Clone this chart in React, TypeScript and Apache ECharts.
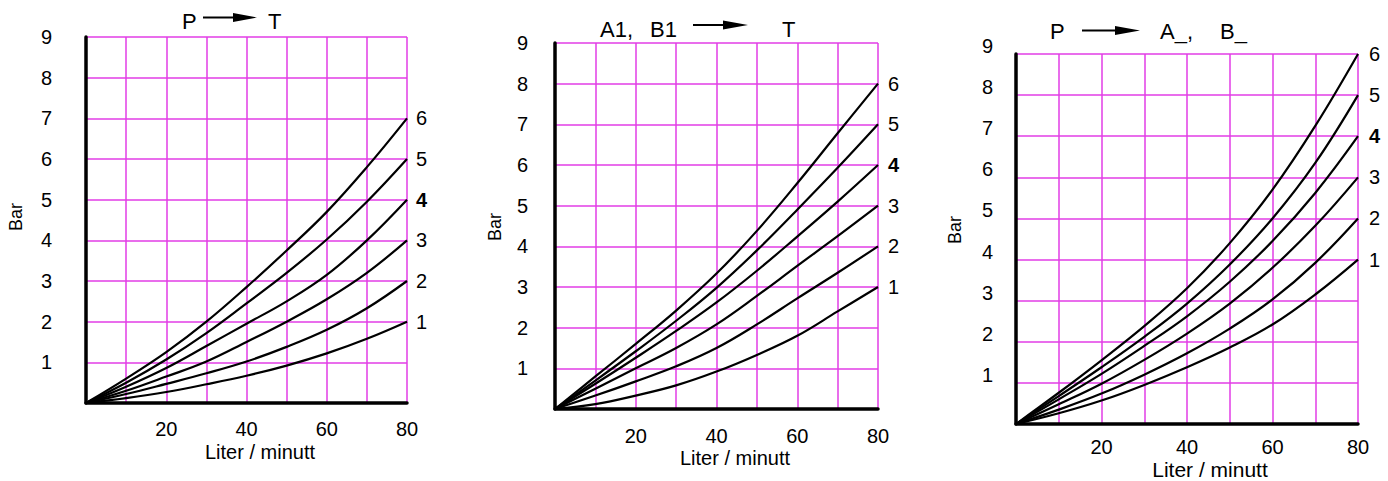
import React, { useEffect, useRef } from "react";
import * as echarts from "echarts";

// ---------- data ----------
const flowValues = [0, 10, 20, 30, 40, 50, 60, 70, 80];
const curveNames = ["1", "2", "3", "4", "5", "6"];
const xTickLabels = [20, 40, 60, 80];
const yTickLabels = [1, 2, 3, 4, 5, 6, 7, 8, 9];

// Panel 1: P -> T
const p1c1 = [0, 0.12, 0.27, 0.46, 0.67, 0.92, 1.22, 1.58, 2.0];
const p1c2 = [0, 0.22, 0.47, 0.73, 1.02, 1.38, 1.8, 2.33, 3.0];
const p1c3 = [0, 0.3, 0.65, 1.02, 1.5, 2.0, 2.55, 3.2, 4.0];
const p1c4 = [0, 0.4, 0.86, 1.4, 1.95, 2.5, 3.15, 4.0, 5.0];
const p1c5 = [0, 0.5, 1.07, 1.72, 2.45, 3.2, 4.02, 4.95, 6.0];
const p1c6 = [0, 0.6, 1.25, 2.0, 2.85, 3.75, 4.7, 5.8, 7.0];

// Panel 2: A1, B1 -> T
const p2c1 = [0, 0.12, 0.33, 0.58, 0.92, 1.33, 1.8, 2.4, 3.0];
const p2c2 = [0, 0.33, 0.68, 1.05, 1.5, 2.08, 2.72, 3.35, 4.0];
const p2c3 = [0, 0.5, 1.0, 1.5, 2.08, 2.78, 3.52, 4.25, 5.0];
const p2c4 = [0, 0.62, 1.26, 1.92, 2.62, 3.4, 4.24, 5.1, 6.0];
const p2c5 = [0, 0.7, 1.42, 2.17, 2.98, 3.9, 4.9, 5.93, 7.0];
const p2c6 = [0, 0.8, 1.6, 2.42, 3.33, 4.38, 5.55, 6.78, 8.0];

// Panel 3: P -> A_, B_
const p3c1 = [0, 0.26, 0.57, 0.95, 1.38, 1.86, 2.42, 3.15, 4.0];
const p3c2 = [0, 0.35, 0.74, 1.2, 1.72, 2.32, 3.03, 3.92, 5.0];
const p3c3 = [0, 0.48, 0.98, 1.56, 2.2, 2.93, 3.8, 4.82, 6.0];
const p3c4 = [0, 0.6, 1.22, 1.9, 2.62, 3.46, 4.45, 5.62, 7.0];
const p3c5 = [0, 0.68, 1.38, 2.12, 2.93, 3.88, 5.0, 6.35, 8.0];
const p3c6 = [0, 0.76, 1.55, 2.38, 3.3, 4.4, 5.7, 7.25, 9.0];

const panelCurves = [
  [p1c1, p1c2, p1c3, p1c4, p1c5, p1c6],
  [p2c1, p2c2, p2c3, p2c4, p2c5, p2c6],
  [p3c1, p3c2, p3c3, p3c4, p3c5, p3c6],
];

const xAxisName = "Liter / minutt";
const yAxisName = "Bar";

// ---------- styling / layout ----------
const FONT = '"Liberation Sans", Arial, Helvetica, sans-serif';
const MAGENTA = "#e23ce6";

const panelLayout = [
  { left: 86, top: 37, width: 321, height: 366, yMargin: 34, yRaise: false, xMargin: 16, endDist: 9 },
  { left: 555, top: 43, width: 323, height: 366, yMargin: 27, yRaise: false, xMargin: 17, endDist: 10 },
  { left: 1016, top: 54, width: 342, height: 370, yMargin: 23, yRaise: true, xMargin: 13, endDist: 11 },
];

function arrow(x0: number, headStart: number, x1: number, y: number) {
  return [
    {
      type: "line",
      shape: { x1: x0, y1: y, x2: headStart + 2, y2: y },
      style: { stroke: "#000", lineWidth: 2 },
    },
    {
      type: "polygon",
      shape: {
        points: [
          [headStart, y - 4.5],
          [x1, y],
          [headStart, y + 4.5],
        ],
      },
      style: { fill: "#000" },
    },
  ];
}

function text(str: string, x: number, y: number, size: number, align = "left", rotation = 0) {
  return {
    type: "text",
    x,
    y,
    rotation,
    style: {
      text: str,
      x: 0,
      y: 0,
      fill: "#000",
      font: `${size}px ${FONT}`,
      align,
      verticalAlign: "middle",
    },
  };
}

export default function App() {
  const ref = useRef<HTMLDivElement>(null);

  useEffect(() => {
    if (!ref.current) return;
    const chart = echarts.init(ref.current, null, { renderer: "svg" });

    const grids = panelLayout.map((p) => ({
      left: p.left,
      top: p.top,
      width: p.width,
      height: p.height,
      containLabel: false,
    }));

    const xAxes = panelLayout.map((p, i) => ({
      type: "value",
      gridIndex: i,
      min: 0,
      max: 80,
      interval: 10,
      axisLine: { show: true, onZero: false, lineStyle: { color: "#000", width: 3.5 } },
      axisTick: { show: false },
      splitLine: { show: true, showMinLine: false, lineStyle: { color: MAGENTA, width: 1.5 } },
      axisLabel: {
        margin: p.xMargin,
        color: "#000",
        fontSize: 20,
        fontFamily: FONT,
        formatter: (v: number) => (xTickLabels.includes(v) ? String(v) : ""),
      },
    }));

    const yAxes = panelLayout.map((p, i) => ({
      type: "value",
      gridIndex: i,
      min: 0,
      max: 9,
      interval: 1,
      axisLine: { show: true, onZero: false, lineStyle: { color: "#000", width: 3.5 } },
      axisTick: { show: false },
      splitLine: { show: true, showMinLine: false, lineStyle: { color: MAGENTA, width: 1.5 } },
      axisLabel: {
        margin: p.yMargin,
        color: "#000",
        fontSize: 20,
        fontFamily: FONT,
        ...(p.yRaise ? { verticalAlign: "bottom", lineHeight: 16 } : {}),
        formatter: (v: number) => (yTickLabels.includes(v) ? String(v) : ""),
      },
    }));

    const series: any[] = [];
    panelCurves.forEach((curves, pi) => {
      curves.forEach((vals, ci) => {
        series.push({
          type: "line",
          name: `P${pi + 1}-${curveNames[ci]}`,
          xAxisIndex: pi,
          yAxisIndex: pi,
          data: flowValues.map((x, k) => [x, vals[k]]),
          showSymbol: false,
          symbol: "none",
          smooth: 0.4,
          z: 5,
          lineStyle: { color: "#000", width: 2.2 },
          endLabel: {
            show: true,
            formatter: () => curveNames[ci],
            distance: panelLayout[pi].endDist,
            color: "#000",
            fontSize: 20,
            fontFamily: FONT,
            fontWeight: curveNames[ci] === "4" ? "bold" : "normal",
          },
          emphasis: { disabled: true },
          silent: true,
        });
      });
    });

    const graphics: any[] = [
      // Panel 1 title: P -> T
      text("P", 182, 21, 22),
      ...arrow(203, 233, 257, 17.5),
      text("T", 268, 21, 22),
      // Panel 2 title: A1, B1 -> T
      text("A1,", 600, 29, 22),
      text("B1", 650, 29, 22),
      ...arrow(693, 723, 748, 25),
      text("T", 782, 29, 22),
      // Panel 3 title: P -> A_, B_
      text("P", 1050, 31, 22),
      ...arrow(1082, 1115, 1140, 30.5),
      text("A_,", 1160, 31, 22),
      text("B_", 1220, 31, 22),
      // axis names
      text(xAxisName, 260, 452, 20, "center"),
      text(xAxisName, 735, 458, 20, "center"),
      text(xAxisName, 1210, 469, 21, "center"),
      text(yAxisName, 16, 217, 18, "center", Math.PI / 2),
      text(yAxisName, 495, 227, 18, "center", Math.PI / 2),
      text(yAxisName, 955, 230, 18, "center", Math.PI / 2),
    ];

    chart.setOption({
      animation: false,
      backgroundColor: "#fff",
      grid: grids,
      xAxis: xAxes,
      yAxis: yAxes,
      series,
      graphic: graphics,
    });

    return () => chart.dispose();
  }, []);

  return (
    <div
      ref={ref}
      style={{ position: "fixed", left: 0, top: 0, width: 1388, height: 481, background: "#fff" }}
    />
  );
}
